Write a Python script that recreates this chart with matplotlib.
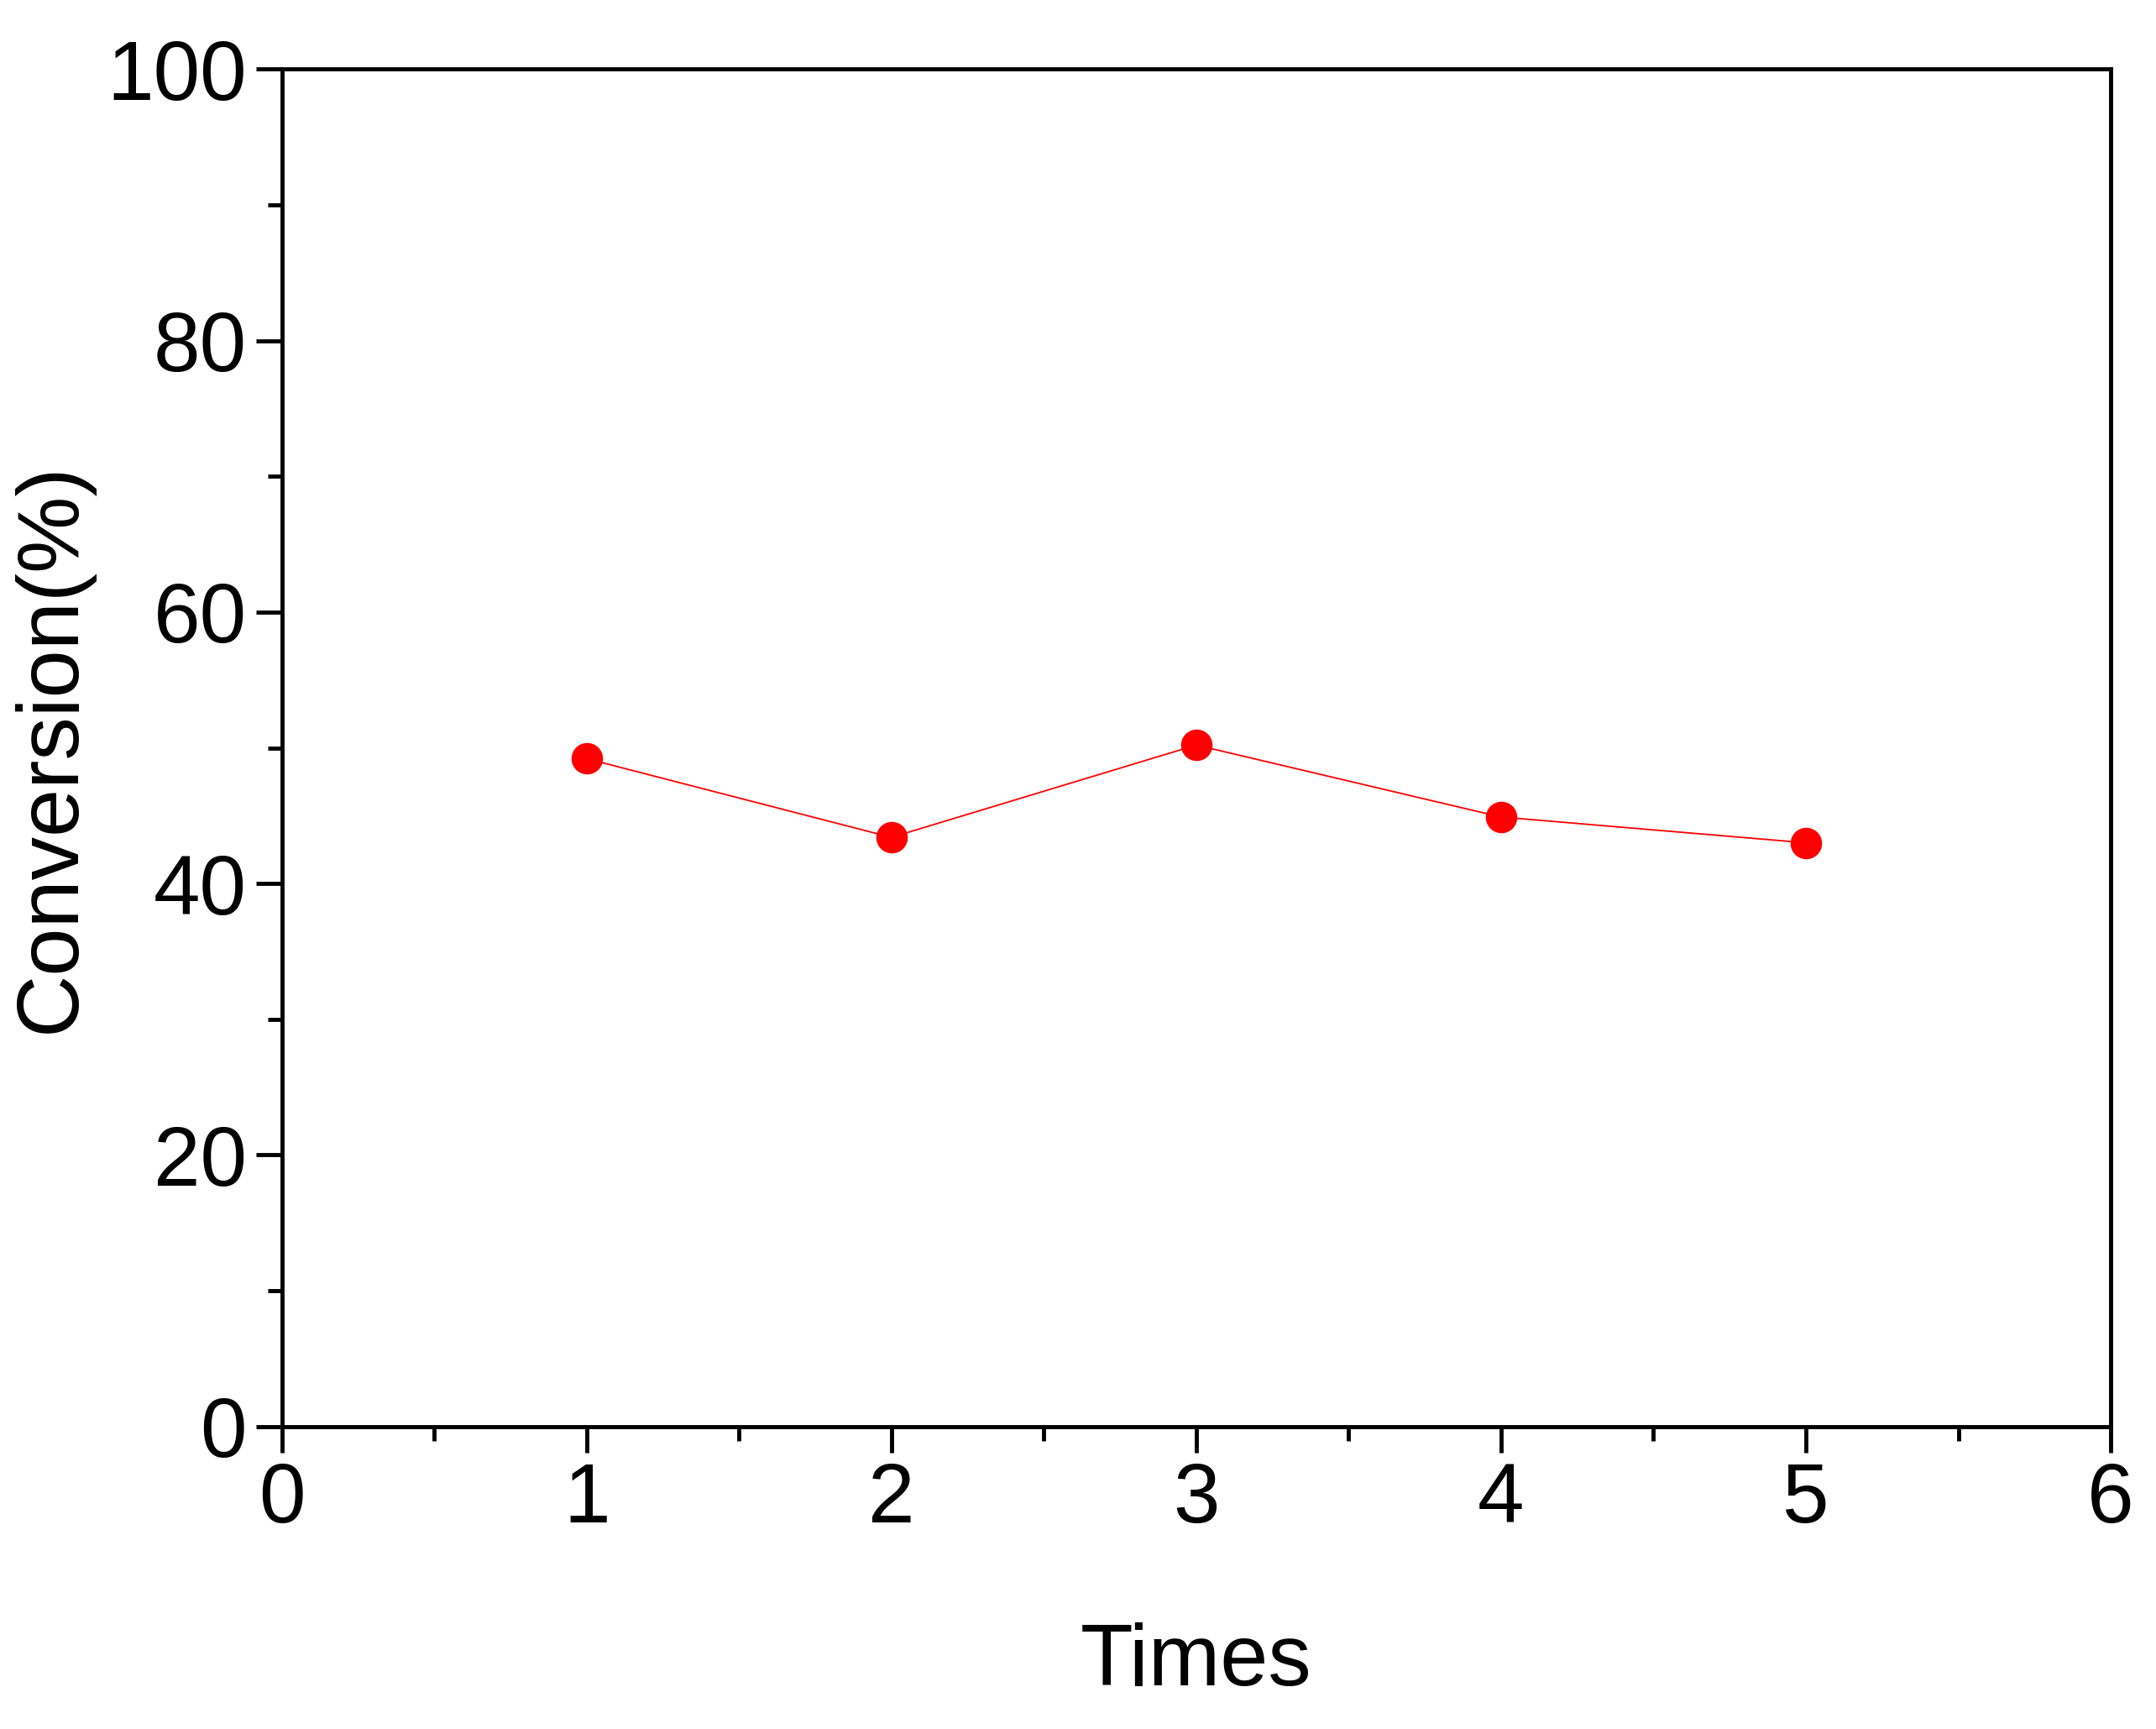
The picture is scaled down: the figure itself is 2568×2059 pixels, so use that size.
import matplotlib.pyplot as plt
from matplotlib.ticker import MultipleLocator

plt.rcParams['font.family'] = ['Liberation Sans', 'DejaVu Sans']

times = [1, 2, 3, 4, 5]
conversion = [49.2, 43.4, 50.2, 44.9, 43.0]

fig = plt.figure(figsize=(25.68, 20.59), dpi=100)
ax = fig.add_axes([0.1307, 0.175, 0.979 - 0.1307, 0.960 - 0.175])

ax.plot(times, conversion, color="red", linewidth=1.3, marker="o",
        markersize=26, markerfacecolor="red", markeredgecolor="red")

ax.set_xlim(0, 6)
ax.set_ylim(0, 100)
ax.xaxis.set_major_locator(MultipleLocator(1))
ax.xaxis.set_minor_locator(MultipleLocator(0.5))
ax.yaxis.set_major_locator(MultipleLocator(20))
ax.yaxis.set_minor_locator(MultipleLocator(10))
ax.tick_params(which="major", direction="out", length=22, width=3.5, labelsize=72, pad=8)
ax.tick_params(which="minor", direction="out", length=12, width=3.5)
for s in ax.spines.values():
    s.set_linewidth(3.5)

ax.set_xlabel("Times", fontsize=74, labelpad=70)
ax.set_ylabel("Conversion(%)", fontsize=74, labelpad=12)

fig.savefig("out.png", dpi=100)
